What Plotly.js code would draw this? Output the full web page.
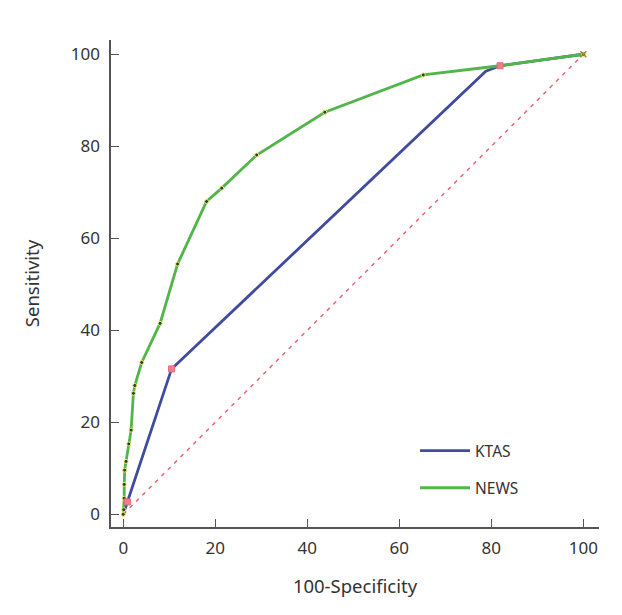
<!DOCTYPE html>
<html>
<head>
<meta charset="utf-8">
<script src="https://cdn.plot.ly/plotly-3.0.1.min.js"></script>
<style>html,body{margin:0;padding:0;background:#fff;}#chart{width:622px;height:615px;}</style>
</head>
<body>
<div id="chart"></div>
<script>
// ROC data (100-Specificity vs Sensitivity, %)
const ktasX = [0, 0.9, 10.5, 14.1, 78.8, 81.9, 100];
const ktasY = [0, 2.7, 31.6, 35.0, 96.3, 97.5, 100];
const ktasMarkX = [0.9, 10.5, 81.9];
const ktasMarkY = [2.7, 31.6, 97.5];

const newsX = [0, 0.1, 0.2, 0.2, 0.3, 0.6, 1.2, 1.7, 2.2, 2.5, 4.0, 8.0, 11.8, 18.1, 21.4, 29.0, 43.8, 65.2, 81.9, 100];
const newsY = [0, 1.0, 3.5, 6.5, 9.6, 11.5, 15.3, 18.3, 26.3, 28.0, 33.0, 41.5, 54.4, 68.0, 70.9, 78.1, 87.4, 95.5, 97.5, 100];

const refX = [0, 100];
const refY = [0, 100];

const xTicks = [0, 20, 40, 60, 80, 100];
const yTicks = [0, 20, 40, 60, 80, 100];

const blue = '#3f4c9e';
const green = '#52b548';
const fontFam = '"Noto Sans", "Open Sans", sans-serif';

const traces = [
  {x: refX, y: refY, mode: 'lines', showlegend: false, hoverinfo: 'skip',
   line: {color: '#e2606a', width: 1.4, dash: '4px,5px'}},
  {x: ktasX, y: ktasY, mode: 'lines', name: 'KTAS', legendgroup: 'a',
   line: {color: blue, width: 2.8}},
  {x: newsX, y: newsY, mode: 'lines', name: 'NEWS', legendgroup: 'b',
   line: {color: green, width: 2.8}},
  {x: newsX, y: newsY, mode: 'markers', showlegend: false,
   marker: {size: 4, color: '#2e3b2e', line: {color: '#e9ec6a', width: 1}}},
  {x: ktasMarkX, y: ktasMarkY, mode: 'markers', showlegend: false,
   marker: {symbol: 'square', size: 6, color: '#ec7f8c', line: {color: '#e86878', width: 1}}},
  {x: [100], y: [100], mode: 'markers', showlegend: false,
   marker: {symbol: 'x-thin', size: 6, line: {color: '#9a8a30', width: 1.5}}}
];

const axisCommon = {
  showgrid: false, zeroline: false, showline: true,
  linecolor: '#555', linewidth: 1.6,
  ticks: 'inside', ticklen: 8, tickcolor: '#555', tickwidth: 1.4,
  tickfont: {family: fontFam, size: 17, color: '#333'},
  automargin: false
};

const layout = {
  width: 622, height: 615,
  margin: {l: 111, r: 23, t: 40, b: 88},
  paper_bgcolor: '#fff', plot_bgcolor: '#fff',
  font: {family: fontFam, color: '#333'},
  xaxis: Object.assign({}, axisCommon, {
    range: [-2.67, 103.4], tickvals: xTicks, ticktext: xTicks.map(String),
    ticklabelstandoff: 5,
    title: {text: '100-Specificity', font: {family: fontFam, size: 18.5, color: '#333'}, standoff: 22}
  }),
  yaxis: Object.assign({}, axisCommon, {
    range: [-2.76, 103.1], tickvals: yTicks, ticktext: yTicks.map(String),
    ticklabelstandoff: 6,
    title: {text: 'Sensitivity', font: {family: fontFam, size: 18.5, color: '#333'}, standoff: 26}
  }),
  legend: {
    x: 0.623, y: 0.118, xanchor: 'left', yanchor: 'middle',
    bgcolor: 'rgba(0,0,0,0)', font: {family: fontFam, size: 15.5, color: '#333'},
    itemwidth: 50, traceorder: 'grouped', tracegroupgap: 14
  },
  showlegend: true
};

Plotly.newPlot('chart', traces, layout, {displayModeBar: false, staticPlot: true});
</script>
</body>
</html>
